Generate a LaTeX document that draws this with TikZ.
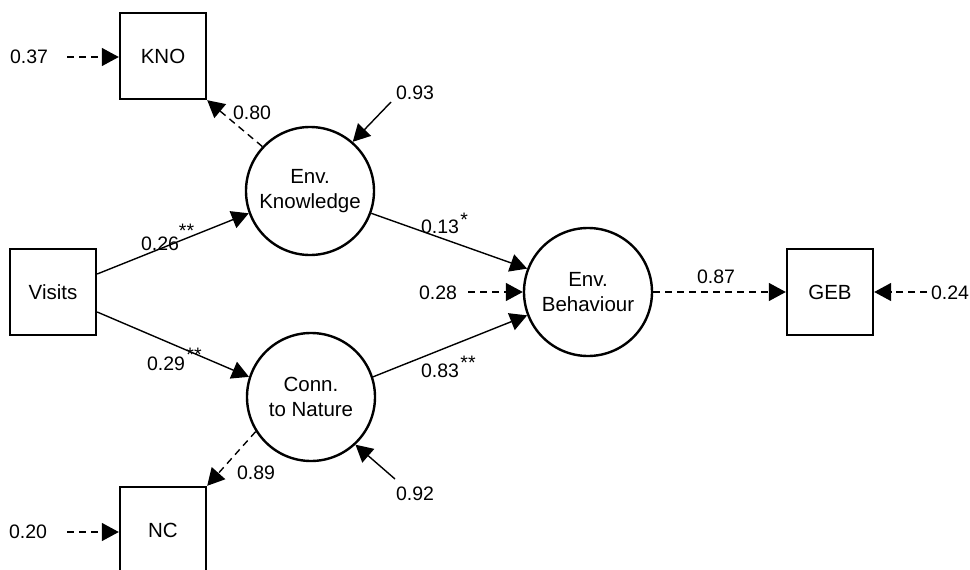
\documentclass[tikz,border=0pt]{standalone}
\usepackage{fontspec}
\setmainfont{Liberation Sans}
\usetikzlibrary{arrows.meta}
\begin{document}
\begin{tikzpicture}[x=1pt,y=-1pt,
  box/.style={draw,line width=2.4pt,minimum width=86pt,minimum height=86pt,inner sep=0pt,font=\fontsize{20.5}{25}\selectfont},
  latent/.style={draw,circle,line width=2.4pt,minimum size=128pt,inner sep=0pt,align=center,font=\fontsize{20.5}{25}\selectfont},
  lbl/.style={inner sep=0pt,font=\fontsize{19.5}{23}\selectfont},
  arr/.style={line width=1.4pt,-{Triangle[length=17pt,width=18pt]}},
  darr/.style={arr,dash pattern=on 7pt off 5pt},
]
\clip (0,0) rectangle (970,570);
% observed and latent variables
\node[box] (KNO) at (163,56) {KNO};
\node[box] (V) at (53,292) {Visits};
\node[box] (NC) at (163,530) {NC};
\node[box] (GEB) at (830,292) {GEB};
\node[latent] (EK) at (310,191) {Env.\\Knowledge};
\node[latent] (CN) at (311,397) {Conn.\\to Nature};
\node[latent] (EB) at (588,292) {Env.\\Behaviour};
% labels
\node[lbl] (n37) at (29,57) {0.37};
\node[lbl] (n80) at (252,113) {0.80};
\node[lbl] (n93) at (415,93) {0.93};
\node[lbl] (n26) at (160,237) {0.26\rlap{\raisebox{13pt}{**}}};
\node[lbl] (n29) at (166,359) {0.29\rlap{\hspace{1.5pt}\raisebox{9pt}{**}}};
\node[lbl] (n13) at (440,223) {0.13\rlap{\hspace{1.5pt}\raisebox{7pt}{*}}};
\node[lbl] (n83) at (440,367) {0.83\rlap{\hspace{1.5pt}\raisebox{8pt}{**}}};
\node[lbl] (n28) at (438,293) {0.28};
\node[lbl] (n87) at (716,277) {0.87};
\node[lbl] (n24) at (950,293) {0.24};
\node[lbl] (n89) at (256,473) {0.89};
\node[lbl] (n92) at (415,494) {0.92};
\node[lbl] (n20) at (28,532) {0.20};
% free tails
\coordinate (t37) at (67,57);
\coordinate (t20) at (67,532);
\coordinate (t93) at (391,102);
\coordinate (t92) at (395,479);
\coordinate (t28) at (468,292);
\coordinate (t24) at (927,292);
% structural paths
\draw[arr] ([yshift=18pt]V.east) -- (EK.200);
\draw[arr] ([yshift=-20pt]V.east) -- (CN.162);
\draw[arr] (EK.-20) -- (EB.159);
\draw[arr] (CN.18) -- (EB.201);
% measurement paths
\draw[darr] (EK.137) -- (KNO.south east);
\draw[darr] (CN.212) -- (NC.north east);
\draw[darr] (EB.east) -- (GEB.west);
% error terms
\draw[darr] (t37) -- (t37 -| KNO.west);
\draw[darr] (t20) -- (t20 -| NC.west);
\draw[darr] (t28) -- (EB.west);
\draw[darr] (t24) -- (GEB.east);
\draw[arr] (t93) -- (EK.49);
\draw[arr] (t92) -- (CN.-47);
\end{tikzpicture}
\end{document}
